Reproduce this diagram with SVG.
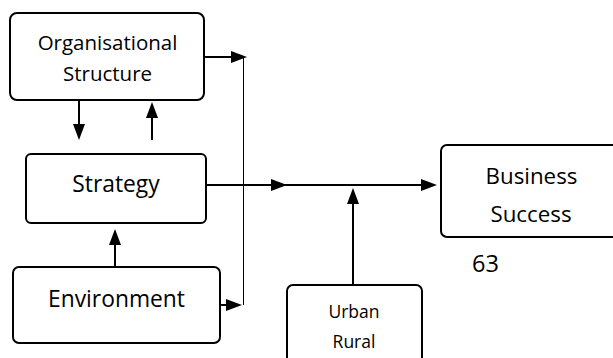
<svg xmlns="http://www.w3.org/2000/svg" width="613" height="358" viewBox="0 0 613 358">
  <defs>
    <marker id="arr" markerUnits="userSpaceOnUse" markerWidth="16" markerHeight="12" refX="8" refY="6" orient="auto">
      <path d="M0,0 L16,6 L0,12 z" fill="#000"/>
    </marker>
    <style>
      .box { fill: #fff; stroke: #000; stroke-width: 2; }
      .lbl { font-family: "Open Sans", "Noto Sans", sans-serif; fill: #000; text-anchor: middle; }
      .conn { stroke: #000; stroke-width: 2; fill: none; }
      .thin { stroke: #000; stroke-width: 1; fill: none; }
    </style>
  </defs>
  <rect width="613" height="358" fill="#fff"/>

  <g id="connectors">
    <line class="thin" x1="243.5" y1="56" x2="243.5" y2="305"/>
    <line class="conn" x1="205" y1="57" x2="239" y2="57" marker-end="url(#arr)"/>
    <line class="conn" x1="79" y1="101" x2="79" y2="132" marker-end="url(#arr)"/>
    <line class="conn" x1="152" y1="140" x2="152" y2="110" marker-end="url(#arr)"/>
    <path class="conn" d="M207,185 L279,185 L429,185" marker-mid="url(#arr)" marker-end="url(#arr)"/>
    <line class="conn" x1="353" y1="285" x2="353" y2="196" marker-end="url(#arr)"/>
    <line class="conn" x1="115" y1="267" x2="115" y2="237" marker-end="url(#arr)"/>
    <line class="conn" x1="221" y1="305" x2="234" y2="305" marker-end="url(#arr)"/>
  </g>

  <g id="org-structure">
    <rect class="box" x="10" y="13" width="194" height="87" rx="7"/>
    <text class="lbl" x="107.5" y="50" font-size="20.5">Organisational</text>
    <text class="lbl" x="107.5" y="81" font-size="20.5">Structure</text>
  </g>

  <g id="strategy">
    <rect class="box" x="26" y="154" width="180" height="69" rx="5"/>
    <text class="lbl" x="116" y="192" font-size="22.8">Strategy</text>
  </g>

  <g id="environment">
    <rect class="box" x="13" y="267" width="207" height="76" rx="6"/>
    <text class="lbl" x="116.5" y="307" font-size="22.8">Environment</text>
  </g>

  <g id="business-success">
    <rect class="box" x="441" y="145" width="185" height="92" rx="6"/>
    <text class="lbl" x="531.5" y="184" font-size="22.3">Business</text>
    <text class="lbl" x="531" y="222" font-size="22.3">Success</text>
  </g>

  <g id="urban-rural">
    <rect class="box" x="287" y="285" width="135" height="90" rx="6"/>
    <text class="lbl" x="354" y="318" font-size="17.5">Urban</text>
    <text class="lbl" x="354" y="348" font-size="17.5">Rural</text>
  </g>

  <g id="page-number">
    <text class="lbl" x="472" y="272" font-size="23.5" style="text-anchor:start">63</text>
  </g>
</svg>
